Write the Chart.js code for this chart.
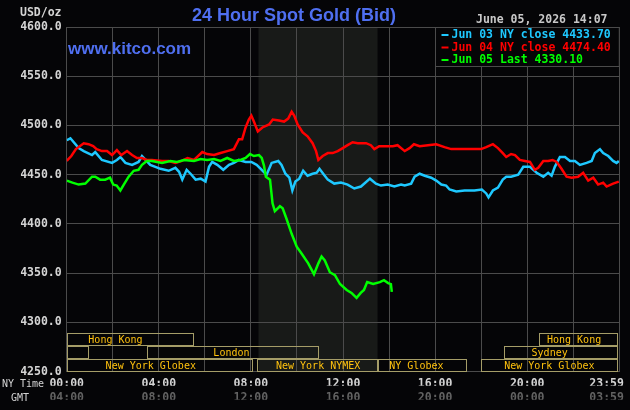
<!DOCTYPE html>
<html>
<head>
<meta charset="utf-8">
<script src="https://cdn.jsdelivr.net/npm/chart.js@4.4.0/dist/chart.umd.min.js"></script>
<style>
  body { margin: 0; background: #050507; }
  canvas { display: block; }
</style>
</head>
<body>
<canvas id="chart" width="630" height="410"></canvas>
<script>
// NY-time hours and bid prices
const jun03Hours = [0, 0.16, 0.52, 0.74, 1.1, 1.24, 1.53, 1.97, 2.18, 2.33, 2.55, 2.84, 3.12, 3.27, 3.63, 3.85, 4.07, 4.43, 4.72, 4.88, 5.02, 5.21, 5.38, 5.6, 5.82, 6.03, 6.18, 6.32, 6.54, 6.8, 7.05, 7.26, 7.48, 7.77, 8.02, 8.25, 8.47, 8.68, 8.9, 9.19, 9.33, 9.5, 9.67, 9.8, 9.93, 10.1, 10.27, 10.46, 10.68, 10.86, 10.98, 11.14, 11.34, 11.62, 11.91, 12.2, 12.49, 12.78, 13.17, 13.43, 13.65, 13.94, 14.23, 14.52, 14.68, 14.96, 15.11, 15.33, 15.55, 15.83, 16.05, 16.27, 16.48, 16.63, 16.92, 17.28, 17.71, 18.03, 18.22, 18.32, 18.51, 18.73, 18.94, 19.09, 19.3, 19.61, 19.83, 20.12, 20.41, 20.7, 20.91, 21.06, 21.2, 21.42, 21.64, 21.86, 22.07, 22.29, 22.58, 22.8, 22.94, 23.16, 23.3, 23.52, 23.73, 23.88, 23.98];
const jun03Values = [4485, 4487, 4477, 4474, 4470, 4473, 4465, 4462, 4465, 4468, 4462, 4460, 4463, 4469, 4460, 4458, 4456, 4454, 4457, 4453, 4445, 4455, 4451, 4445, 4446, 4443, 4458, 4463, 4460, 4455, 4460, 4462, 4465, 4463, 4463, 4460, 4455, 4450, 4462, 4464, 4460, 4451, 4447, 4434, 4443, 4446, 4454, 4449, 4451, 4452, 4456, 4451, 4445, 4441, 4442, 4440, 4436, 4438, 4446, 4441, 4439, 4440, 4438, 4440, 4439, 4441, 4448, 4451, 4449, 4447, 4444, 4440, 4439, 4435, 4433, 4434, 4434, 4435, 4431, 4427, 4434, 4437, 4445, 4448, 4448, 4450, 4458, 4458, 4452, 4448, 4452, 4449, 4458, 4468, 4468, 4464, 4464, 4460, 4462, 4464, 4472, 4476, 4472, 4469, 4464, 4462, 4464];

const jun04Hours = [0, 0.2, 0.4, 0.74, 0.95, 1.15, 1.3, 1.53, 1.75, 1.97, 2.18, 2.37, 2.62, 2.84, 3.05, 3.27, 3.48, 3.7, 4.14, 4.43, 4.72, 5.0, 5.25, 5.53, 5.89, 6.1, 6.4, 6.68, 6.97, 7.26, 7.48, 7.62, 7.77, 7.91, 8.02, 8.13, 8.3, 8.5, 8.79, 8.95, 9.22, 9.44, 9.62, 9.77, 9.88, 10.03, 10.25, 10.46, 10.68, 10.83, 10.93, 11.12, 11.34, 11.55, 11.77, 11.99, 12.2, 12.42, 12.64, 13.0, 13.21, 13.36, 13.57, 13.86, 14.16, 14.37, 14.68, 14.89, 15.08, 15.33, 15.69, 16.05, 16.41, 16.7, 17.13, 17.57, 18.0, 18.22, 18.51, 18.73, 18.94, 19.09, 19.3, 19.47, 19.68, 19.9, 20.12, 20.33, 20.48, 20.7, 20.91, 21.1, 21.28, 21.49, 21.71, 21.93, 22.21, 22.43, 22.65, 22.87, 23.08, 23.3, 23.45, 23.73, 23.98];
const jun04Values = [4464, 4469, 4476, 4482, 4481, 4479, 4476, 4474, 4474, 4470, 4475, 4470, 4474, 4470, 4467, 4467, 4465, 4465, 4464, 4464, 4462, 4464, 4467, 4465, 4473, 4471, 4470, 4472, 4474, 4476, 4486, 4486, 4498, 4506, 4510, 4504, 4494, 4498, 4501, 4506, 4505, 4504, 4507, 4514, 4510, 4501, 4493, 4489, 4482, 4474, 4465, 4469, 4472, 4472, 4474, 4477, 4480, 4483, 4482, 4482, 4480, 4476, 4479, 4479, 4479, 4480, 4474, 4477, 4481, 4479, 4480, 4481, 4478, 4476, 4476, 4476, 4476, 4478, 4481, 4477, 4472, 4468, 4471, 4470, 4465, 4464, 4463, 4455, 4457, 4464, 4464, 4465, 4463, 4456, 4448, 4447, 4448, 4452, 4444, 4447, 4440, 4442, 4438, 4441, 4443];

const jun05Hours = [0, 0.25, 0.52, 0.81, 1.1, 1.24, 1.45, 1.67, 1.88, 2.02, 2.17, 2.33, 2.48, 2.69, 2.91, 3.12, 3.27, 3.48, 3.7, 4.14, 4.5, 4.79, 5.09, 5.53, 5.81, 6.1, 6.4, 6.68, 6.97, 7.26, 7.55, 7.77, 7.96, 8.13, 8.35, 8.47, 8.57, 8.65, 8.83, 8.94, 9.04, 9.26, 9.38, 9.55, 9.77, 9.99, 10.2, 10.49, 10.74, 10.93, 11.07, 11.21, 11.43, 11.65, 11.87, 12.16, 12.37, 12.59, 12.77, 12.91, 13.05, 13.31, 13.6, 13.78, 13.96, 14.08, 14.12];
const jun05Values = [4444, 4442, 4440, 4441, 4448, 4448, 4445, 4445, 4447, 4440, 4439, 4434, 4440, 4448, 4454, 4455, 4460, 4464, 4464, 4462, 4464, 4463, 4465, 4464, 4466, 4465, 4466, 4464, 4467, 4464, 4465, 4467, 4471, 4469, 4470, 4467, 4459, 4448, 4445, 4421, 4413, 4418, 4416, 4405, 4390, 4377, 4370, 4360, 4349, 4360, 4367, 4363, 4351, 4348, 4339, 4333, 4330, 4325, 4330, 4333, 4341, 4339, 4341, 4343, 4340, 4339, 4331];

const seriesNames = ['Jun 03 NY close 4433.70', 'Jun 04 NY close 4474.40', 'Jun 05 Last 4330.10'];

const tickHours = [0, 4, 8, 12, 16, 20, 23.45];
const nyTimeLabels = ['00:00', '04:00', '08:00', '12:00', '16:00', '20:00', '23:59'];
const gmtLabels = ['04:00', '08:00', '12:00', '16:00', '20:00', '00:00', '03:59'];

// trading sessions: row (0 = bottom), start/end hour, name, hour where the name starts
const sessionRows = [2, 2, 1, 1, 1, 0, 0, 0, 0];
const sessionStarts = [0, 20.5, 0, 3.47, 19.0, 0, 8.25, 13.5, 18.0];
const sessionEnds = [5.47, 23.9, 0.94, 10.93, 23.9, 8.03, 13.46, 17.33, 23.9];
const sessionNames = ['Hong Kong', 'Hong Kong', '', 'London', 'Sydney', 'New York Globex', 'New York NYMEX', 'NY Globex', 'New York Globex'];
const sessionTextHours = [0.94, 20.86, 0, 6.37, 20.19, 1.69, 9.09, 14.01, 19.0];
const nymexHours = [8.33, 13.5];

const rowEdges = [4250, 4263, 4276, 4289];
const gridColor = '#4b4b4b';
const mono = 'DejaVu Sans Mono';

function pts(hours, values) {
  return hours.map((h, i) => ({ x: h, y: values[i] }));
}

const kitcoDecor = {
  id: 'kitcoDecor',
  beforeDraw(chart) {
    const { ctx, chartArea: a, scales: { x } } = chart;
    ctx.save();
    ctx.fillStyle = '#050507';
    ctx.fillRect(0, 0, chart.width, chart.height);
    const x0 = x.getPixelForValue(nymexHours[0]);
    const x1 = x.getPixelForValue(nymexHours[1]);
    ctx.fillStyle = '#181a18';
    ctx.fillRect(x0, a.top, x1 - x0, a.bottom - a.top);
    ctx.restore();
  },
  afterDatasetsDraw(chart) {
    const { ctx, chartArea: a, scales: { x, y } } = chart;
    ctx.save();
    // session boxes
    ctx.strokeStyle = '#a59d68';
    ctx.lineWidth = 1;
    ctx.font = '10px "' + mono + '"';
    ctx.textBaseline = 'middle';
    ctx.textAlign = 'left';
    sessionRows.forEach((row, i) => {
      const xa = Math.round(x.getPixelForValue(sessionStarts[i])) + 0.5;
      const xb = Math.round(x.getPixelForValue(sessionEnds[i])) + 0.5;
      const yt = Math.round(y.getPixelForValue(rowEdges[row + 1])) + 0.5;
      const yb = Math.round(y.getPixelForValue(rowEdges[row])) - 0.5;
      ctx.strokeRect(xa, yt, xb - xa, yb - yt);
      if (sessionNames[i]) {
        ctx.fillStyle = '#ffc20e';
        ctx.fillText(sessionNames[i], x.getPixelForValue(sessionTextHours[i]), (yt + yb) / 2 + 0.5);
      }
    });

    // legend box
    const lx = 435.5, ly = a.top + 0.5;
    ctx.fillStyle = '#050507';
    ctx.fillRect(lx, ly, a.right - lx, 39);
    ctx.strokeStyle = gridColor;
    ctx.strokeRect(lx, ly, a.right - lx, 39);
    ctx.font = 'bold 11.5px "' + mono + '"';
    chart.data.datasets.forEach((ds, i) => {
      const ty = a.top + 8 + i * 12.5;
      ctx.strokeStyle = ds.borderColor;
      ctx.lineWidth = 2;
      ctx.beginPath();
      ctx.moveTo(441.5, ty);
      ctx.lineTo(448.5, ty);
      ctx.stroke();
      ctx.fillStyle = ds.borderColor;
      ctx.fillText(ds.label, 451.5, ty + 0.5);
    });
    ctx.restore();
  },
  afterDraw(chart) {
    const { ctx } = chart;
    ctx.save();
    ctx.textBaseline = 'middle';
    ctx.fillStyle = '#4f6ff0';
    ctx.textAlign = 'center';
    ctx.font = 'bold 18px "Liberation Sans"';
    ctx.fillText('24 Hour Spot Gold (Bid)', 294, 16);
    ctx.textAlign = 'left';
    ctx.font = 'bold 17px "Liberation Sans"';
    ctx.fillText('www.kitco.com', 68, 49);

    ctx.font = 'bold 11.5px "' + mono + '"';
    ctx.fillStyle = '#c8c8c8';
    ctx.fillText('June 05, 2026 14:07', 476, 20);
    ctx.textAlign = 'right';
    ctx.fillStyle = '#d4d4d4';
    ctx.fillText('USD/oz', 61.5, 13);
    ctx.textAlign = 'left';
    ctx.font = '10px "' + mono + '"';
    ctx.fillText('NY Time', 2, 384);
    ctx.fillText('GMT', 11, 398);
    ctx.restore();
  }
};

const ctx = document.getElementById('chart').getContext('2d');
new Chart(ctx, {
  type: 'line',
  data: {
    datasets: [
      { label: seriesNames[0], data: pts(jun03Hours, jun03Values), borderColor: '#1ec8ff', order: 2 },
      { label: seriesNames[1], data: pts(jun04Hours, jun04Values), borderColor: '#ff0000', order: 1 },
      { label: seriesNames[2], data: pts(jun05Hours, jun05Values), borderColor: '#00ff00', order: 0 }
    ]
  },
  options: {
    responsive: false,
    animation: false,
    devicePixelRatio: 1,
    layout: { padding: { top: 27, left: 20.7, right: 10.7, bottom: 10.3 } },
    elements: {
      line: { borderWidth: 2.5, tension: 0, fill: false },
      point: { radius: 0 }
    },
    plugins: { legend: { display: false }, tooltip: { enabled: false } },
    scales: {
      x: {
        type: 'linear', min: 0, max: 24, position: 'bottom', weight: 1,
        grid: { color: gridColor, drawTicks: false },
        border: { color: gridColor },
        ticks: { display: false, stepSize: 2 },
        afterFit: s => { s.height = 0; }
      },
      xNY: {
        type: 'linear', min: 0, max: 24, position: 'bottom', weight: 2,
        grid: { display: false, drawTicks: false },
        border: { display: false },
        afterBuildTicks: s => { s.ticks = tickHours.map(v => ({ value: v })); },
        ticks: {
          autoSkip: false, maxRotation: 0, padding: 5, color: '#d4d4d4',
          font: { family: mono, size: 11.5, weight: 'bold' },
          callback: (v, i) => nyTimeLabels[i]
        },
        afterFit: s => { s.height = 14; }
      },
      xGMT: {
        type: 'linear', min: 0, max: 24, position: 'bottom', weight: 3,
        grid: { display: false, drawTicks: false },
        border: { display: false },
        afterBuildTicks: s => { s.ticks = tickHours.map(v => ({ value: v })); },
        ticks: {
          autoSkip: false, maxRotation: 0, padding: 5, color: '#626262',
          font: { family: mono, size: 11.5, weight: 'bold' },
          callback: (v, i) => gmtLabels[i]
        },
        afterFit: s => { s.height = 14; }
      },
      y: {
        min: 4250, max: 4600, position: 'left',
        grid: { color: gridColor, drawTicks: false },
        border: { display: false },
        ticks: {
          stepSize: 50, padding: 5, color: '#d4d4d4',
          font: { family: mono, size: 11.5, weight: 'bold' },
          callback: v => v.toFixed(1)
        },
        afterFit: s => { s.width = 46; }
      }
    }
  },
  plugins: [kitcoDecor]
});
</script>
</body>
</html>
